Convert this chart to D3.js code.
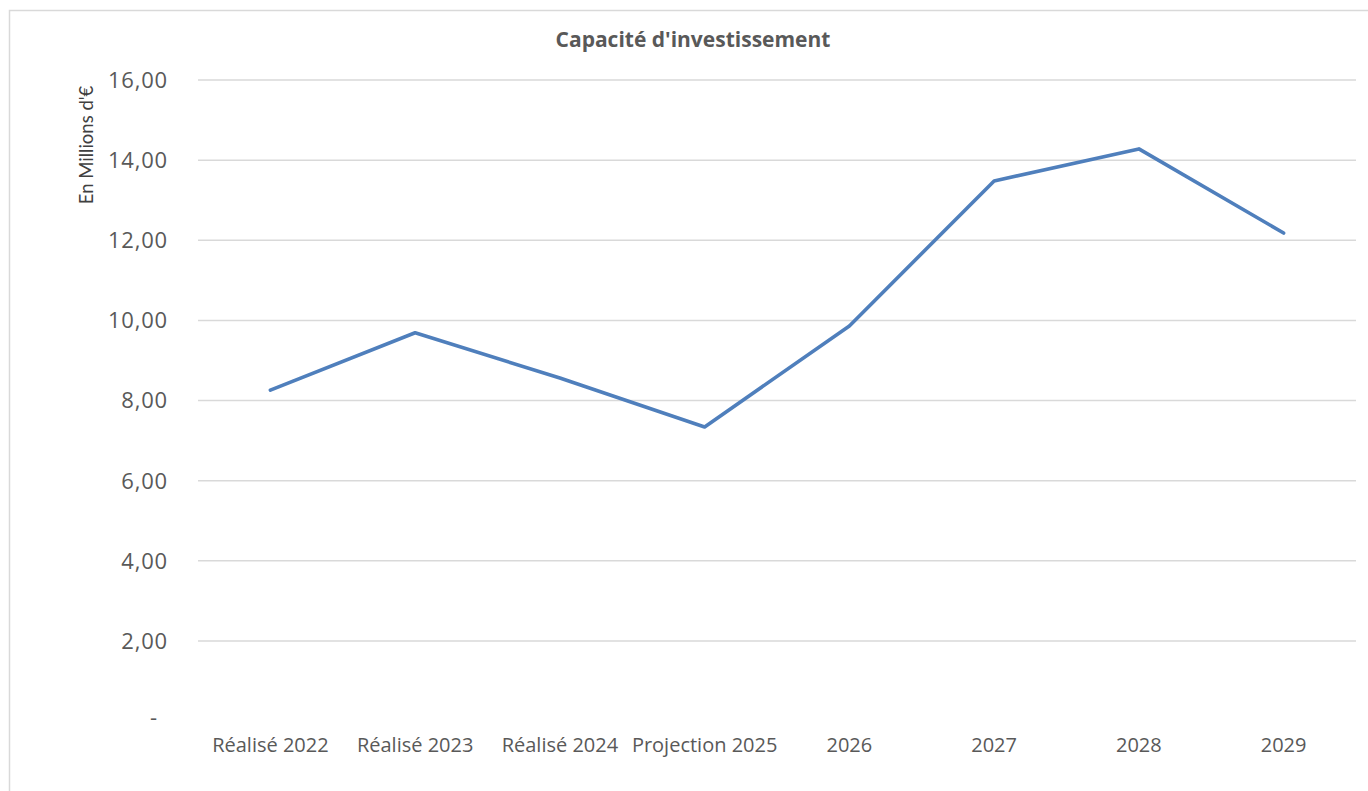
<!DOCTYPE html>
<html>
<head>
<meta charset="utf-8">
<script src="https://cdn.jsdelivr.net/npm/d3@7"></script>
<style>
html,body{margin:0;padding:0;background:#fff;overflow:hidden;}
svg{display:block;}
</style>
</head>
<body>
<svg id="chart" width="1368" height="791"></svg>
<script>
const categories = ["Réalisé 2022","Réalisé 2023","Réalisé 2024","Projection 2025","2026","2027","2028","2029"];
const values = [8.26, 9.69, 8.56, 7.34, 9.86, 13.48, 14.28, 12.18];
const yTicks = [0, 2, 4, 6, 8, 10, 12, 14, 16];
const titleText = "Capacité d'investissement";
const yLabelText = "En Millions d'€";

const svg = d3.select("#chart");
const W = 1368, H = 791;
const m = {left: 198, right: 12, top: 80, bottom: 70};

// outer border
svg.append("rect").attr("x", 9.5).attr("y", 10.5).attr("width", W + 10).attr("height", H + 10)
  .attr("fill", "#fff").attr("stroke", "#d9d9d9").attr("stroke-width", 1.5);

const x = d3.scaleBand().domain(categories).range([m.left, W - m.right]);
const y = d3.scaleLinear().domain([0, 16]).range([H - m.bottom, m.top]);

// gridlines
svg.append("g").selectAll("line").data(yTicks.filter(d => d > 0)).join("line")
  .attr("x1", m.left).attr("x2", W - m.right)
  .attr("y1", d => y(d)).attr("y2", d => y(d))
  .attr("stroke", "#d9d9d9").attr("stroke-width", 1.5);

// y axis
const fmt = d => d === 0 ? "-" : d.toFixed(2).replace(".", ",");
const yAxis = svg.append("g").attr("transform", `translate(${m.left},0)`)
  .call(d3.axisLeft(y).tickValues(yTicks).tickFormat(fmt).tickSize(0).tickPadding(30));
yAxis.select(".domain").remove();
yAxis.selectAll("text").attr("fill", "#595959")
  .style("font-family", "'Open Sans', sans-serif").style("font-size", "22px")
  .style("letter-spacing", "0.8px")
  .attr("dy", d => d === 0 ? "0.15em" : "0.34em")
  .attr("dx", d => d === 0 ? -10 : 0);

// x axis
const xAxis = svg.append("g").attr("transform", `translate(0,${H - m.bottom})`)
  .call(d3.axisBottom(x).tickSize(0).tickPadding(17));
xAxis.select(".domain").remove();
xAxis.selectAll("text").attr("fill", "#595959")
  .style("font-family", "'Open Sans', sans-serif").style("font-size", "20px");

// line
const line = d3.line().x((d, i) => x(categories[i]) + x.bandwidth() / 2).y(d => y(d));
svg.append("path").datum(values).attr("d", line)
  .attr("fill", "none").attr("stroke", "#4f7fbc").attr("stroke-width", 3.6)
  .attr("stroke-linejoin", "round").attr("stroke-linecap", "round");

// title
svg.append("text").attr("x", 693).attr("y", 47).attr("text-anchor", "middle")
  .attr("fill", "#595959").style("font-family", "'Open Sans', sans-serif")
  .style("font-size", "21px").style("font-weight", "bold").text(titleText);

// y label
svg.append("text").attr("transform", "translate(93,145) rotate(-90)")
  .attr("text-anchor", "middle").attr("fill", "#404040")
  .style("font-family", "Lato, sans-serif").style("font-size", "18.5px")
  .text(yLabelText);
</script>
</body>
</html>
